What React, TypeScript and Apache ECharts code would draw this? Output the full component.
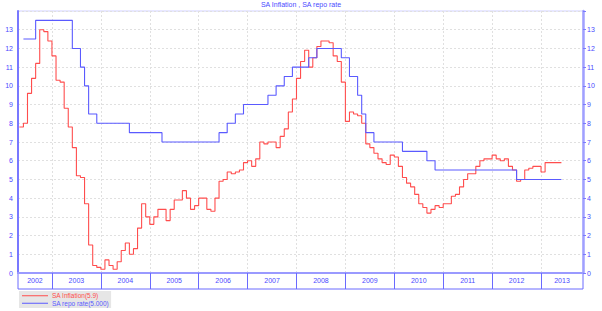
import React, { useEffect, useRef } from "react";
import * as echarts from "echarts";

// x values are months counted from January 2002 (0 = Jan 2002)
const years = [2002, 2003, 2004, 2005, 2006, 2007, 2008, 2009, 2010, 2011, 2012, 2013];
const axisStartMonth = 3.67;
const axisEndMonth = 142.3;

// SA Inflation (%), monthly, first value = May 2002
const inflationStartMonth = 4;
const inflation2002 = [7.8, 8.0, 9.6, 10.4, 11.2, 13.0, 12.9, 12.4];
const inflation2003 = [11.6, 10.3, 10.2, 8.8, 7.8, 6.7, 5.2, 5.1, 3.7, 1.5, 0.4, 0.3];
const inflation2004 = [0.2, 0.7, 0.4, 0.2, 0.6, 1.2, 1.6, 1.0, 1.3, 2.4, 3.7, 3.0];
const inflation2005 = [2.6, 3.0, 3.4, 3.4, 2.8, 3.4, 3.9, 3.9, 4.4, 4.0, 3.4, 3.6];
const inflation2006 = [4.0, 4.0, 3.4, 3.3, 4.0, 4.9, 5.0, 5.4, 5.3, 5.4, 5.5, 5.9];
const inflation2007 = [6.0, 5.7, 6.1, 7.0, 6.9, 7.0, 7.0, 6.7, 7.3, 7.7, 8.6, 9.3];
const inflation2008 = [10.4, 11.3, 11.9, 11.0, 11.5, 12.1, 12.4, 12.4, 12.3, 11.6, 11.3, 10.2];
const inflation2009 = [8.1, 8.6, 8.5, 8.4, 8.0, 6.9, 6.7, 6.4, 6.1, 5.9, 5.8, 6.3];
const inflation2010 = [6.2, 5.7, 5.1, 4.8, 4.6, 4.2, 3.7, 3.5, 3.2, 3.4, 3.6, 3.5];
const inflation2011 = [3.7, 3.7, 4.1, 4.2, 4.6, 5.0, 5.3, 5.3, 5.7, 6.0, 6.1, 6.1];
const inflation2012 = [6.3, 6.1, 6.0, 6.1, 5.7, 5.5, 4.9, 5.0, 5.5, 5.6, 5.7, 5.7];
const inflation2013 = [5.4, 5.9, 5.9, 5.9, 5.9, 5.9];

// SA repo rate (%), monthly, first value = June 2002
const repoStartMonth = 5;
const repo2002 = [12.5, 12.5, 12.5, 13.5, 13.5, 13.5, 13.5];
const repo2003 = [13.5, 13.5, 13.5, 13.5, 13.5, 12.0, 12.0, 11.0, 10.0, 8.5, 8.5, 8.0];
const repo2004 = [8.0, 8.0, 8.0, 8.0, 8.0, 8.0, 8.0, 7.5, 7.5, 7.5, 7.5, 7.5];
const repo2005 = [7.5, 7.5, 7.5, 7.0, 7.0, 7.0, 7.0, 7.0, 7.0, 7.0, 7.0, 7.0];
const repo2006 = [7.0, 7.0, 7.0, 7.0, 7.0, 7.5, 7.5, 8.0, 8.0, 8.5, 8.5, 9.0];
const repo2007 = [9.0, 9.0, 9.0, 9.0, 9.0, 9.5, 9.5, 10.0, 10.0, 10.5, 10.5, 11.0];
const repo2008 = [11.0, 11.0, 11.0, 11.5, 11.5, 12.0, 12.0, 12.0, 12.0, 12.0, 12.0, 11.5];
const repo2009 = [11.5, 10.5, 10.5, 9.5, 8.5, 7.5, 7.5, 7.0, 7.0, 7.0, 7.0, 7.0];
const repo2010 = [7.0, 7.0, 6.5, 6.5, 6.5, 6.5, 6.5, 6.5, 6.0, 6.0, 5.5, 5.5];
const repo2011 = [5.5, 5.5, 5.5, 5.5, 5.5, 5.5, 5.5, 5.5, 5.5, 5.5, 5.5, 5.5];
const repo2012 = [5.5, 5.5, 5.5, 5.5, 5.5, 5.5, 5.0, 5.0, 5.0, 5.0, 5.0, 5.0];
const repo2013 = [5.0, 5.0, 5.0, 5.0, 5.0, 5.0];

const inflationName = "SA Inflation(5.9)";
const repoName = "SA repo rate(5.000)";

const RED = "#ff4d4d";
const BLUE = "#5a5aff";
const FONT = "Liberation Sans, Arial, sans-serif";

export default function App() {
  const ref = useRef<HTMLDivElement>(null);

  useEffect(() => {
    if (!ref.current) return;
    const chart = echarts.init(ref.current, undefined, { renderer: "svg" });

    const inflation = [
      ...inflation2002, ...inflation2003, ...inflation2004, ...inflation2005,
      ...inflation2006, ...inflation2007, ...inflation2008, ...inflation2009,
      ...inflation2010, ...inflation2011, ...inflation2012, ...inflation2013,
    ].map((v, i) => [inflationStartMonth + i, v]);
    const repo = [
      ...repo2002, ...repo2003, ...repo2004, ...repo2005, ...repo2006, ...repo2007,
      ...repo2008, ...repo2009, ...repo2010, ...repo2011, ...repo2012, ...repo2013,
    ].map((v, i) => [repoStartMonth + i, v]);

    const yearBoundaries = years.slice(1).map((y) => (y - 2002) * 12);
    const yearCenters = years.map((y) => {
      const a = Math.max(axisStartMonth, (y - 2002) * 12);
      const b = Math.min(axisEndMonth, (y - 2001) * 12);
      return (a + b) / 2;
    });

    chart.setOption({
      animation: false,
      textStyle: { fontFamily: FONT },
      title: {
        text: "SA Inflation , SA repo rate",
        left: "center",
        top: 0,
        padding: [1, 0, 0, 0],
        textStyle: { fontSize: 7, fontWeight: "normal", color: "#4a4aff", fontFamily: FONT },
      },
      legend: {
        left: 19,
        top: 291,
        orient: "vertical",
        backgroundColor: "#e6e6e6",
        padding: [1, 2, 1, 3],
        itemGap: 0,
        itemWidth: 26,
        itemHeight: 1,
        icon: "rect",
        textStyle: { fontSize: 6.5, lineHeight: 7.5, fontFamily: FONT, padding: [0, 0, 0, -1] },
        data: [
          { name: inflationName, textStyle: { color: RED } },
          { name: repoName, textStyle: { color: BLUE } },
        ],
      },
      grid: {
        left: 18,
        right: 19,
        top: 11,
        bottom: 38,
        show: true,
        borderColor: "#d0d0ff",
        borderWidth: 1,
      },
      xAxis: {
        type: "value",
        min: axisStartMonth,
        max: axisEndMonth,
        axisLine: { show: true, lineStyle: { color: "#9a9aff", width: 2 } },
        axisTick: {
          show: true,
          inside: false,
          length: 16,
          customValues: yearBoundaries,
          lineStyle: { color: "#6a6aff", width: 1 },
        },
        axisLabel: {
          customValues: yearCenters,
          formatter: (v: number) => String(2002 + Math.floor(v / 12)),
          color: "#4a4aff",
          fontSize: 7,
          margin: 4,
          fontFamily: FONT,
        },
        splitLine: {
          show: true,
          lineStyle: { color: "#e0e0e0", type: [2, 2], width: 1 },
        },
      },
      yAxis: [
        {
          type: "value",
          min: 0,
          max: 14,
          interval: 1,
          position: "left",
          axisLine: { show: true, lineStyle: { color: "#7878ff", width: 2 } },
          axisTick: { show: false },
          axisLabel: {
            formatter: (v: number) => (v === 14 ? "" : String(v)),
            color: "#4a4aff",
            fontSize: 7,
            margin: 5,
            fontFamily: FONT,
          },
          splitLine: { show: true, lineStyle: { color: "#e0e0e0", type: [2, 2], width: 1 } },
        },
        {
          type: "value",
          min: 0,
          max: 14,
          interval: 1,
          position: "right",
          axisLine: { show: true, lineStyle: { color: "#a0a0ff", width: 2.5 } },
          axisTick: { show: true, inside: false, length: 3, lineStyle: { color: "#7a7aff" } },
          axisLabel: {
            formatter: (v: number) => (v === 14 ? "" : String(v)),
            color: "#4a4aff",
            fontSize: 7,
            margin: 4,
            fontFamily: FONT,
          },
          splitLine: { show: false },
        },
      ],
      graphic: [
        {
          type: "rect",
          shape: { x: 18, y: 273, width: 565, height: 16 },
          style: { fill: "none", stroke: "#6a6aff", lineWidth: 1 },
          silent: true,
        },
      ],
      series: [
        {
          name: inflationName,
          type: "line",
          step: "end",
          showSymbol: false,
          yAxisIndex: 0,
          data: inflation,
          lineStyle: { color: RED, width: 1.1 },
          itemStyle: { color: RED },
        },
        {
          name: repoName,
          type: "line",
          step: "end",
          showSymbol: false,
          yAxisIndex: 1,
          data: repo,
          lineStyle: { color: BLUE, width: 1.1 },
          itemStyle: { color: BLUE },
        },
      ],
    });

    return () => chart.dispose();
  }, []);

  return (
    <div
      ref={ref}
      style={{ position: "fixed", left: 0, top: 0, width: 602, height: 311, background: "#fff" }}
    />
  );
}
